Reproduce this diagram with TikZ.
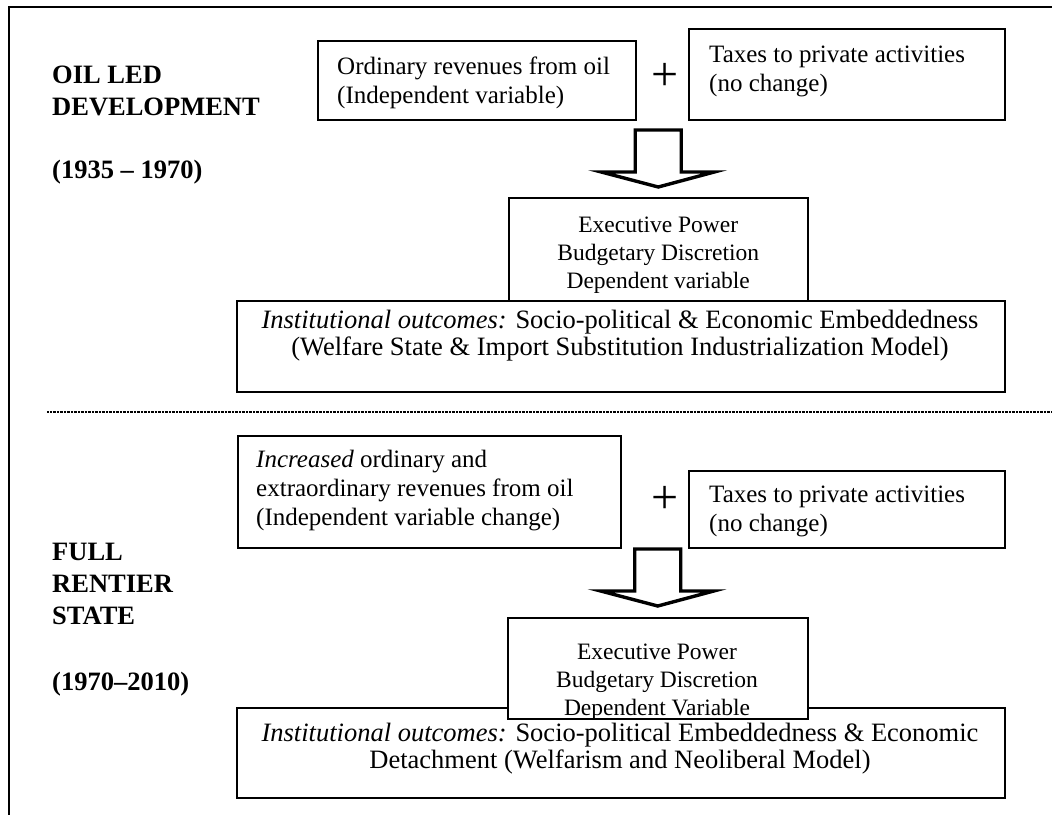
\documentclass[tikz,border=0pt]{standalone}
\usepackage{fontspec}
\setmainfont{Liberation Serif}
\begin{document}
\begin{tikzpicture}[x=1pt,y=-1pt,
  box/.style={draw, line width=1.5pt, fill=white, inner sep=0pt, anchor=north west},
  txt/.style={font=\fontsize{25}{29}\selectfont, inner sep=0pt},
  smalltxt/.style={font=\fontsize{23.5}{28.3}\selectfont, inner sep=0pt},
  bigtxt/.style={font=\fontsize{26.5}{27}\selectfont, inner sep=0pt},
  era/.style={font=\fontsize{26.5}{32}\selectfont\bfseries, inner sep=0pt, align=left},
  plussign/.style={font=\fontsize{48}{48}\selectfont, inner sep=0pt},
  blockarrow/.style={draw, line width=3.4pt, fill=white, line join=miter},
  frameline/.style={line width=1.5pt},
  divider/.style={line width=1.2pt, dash pattern=on 0.8pt off 0.6pt}
]
\useasboundingbox (0,0) rectangle (1052,815);

% outer frame (top and left edges)
\draw[frameline] (1052,7) -- (9,7) -- (9,815);

% ---------- period 1 ----------
\node[era, anchor=north west] (era1) at (52,65.5) {OIL LED\\DEVELOPMENT};
\node[era, anchor=base west] (era1-years) at (52,178) {(1935 – 1970)};

\node[box, minimum width=318pt, minimum height=79pt] (revA) at (317,40) {};
\node[txt, align=left, anchor=west] (revA-text) at (337,82.7)
  {Ordinary revenues from oil\\(Independent variable)};

\node[plussign] (plus1) at (665,77) {+};

\node[box, minimum width=316pt, minimum height=91pt] (taxA) at (688,28) {};
\node[txt, align=left, anchor=west] (taxA-text) at (709,71.2)
  {Taxes to private activities\\(no change)};

\node[box, minimum width=768pt, minimum height=91pt] (outA) at (236,300) {};
\node[bigtxt, align=center] (outA-text) at (620,336)
  {\textit{Institutional outcomes:} Socio-political \& Economic Embeddedness\\
   (Welfare State \& Import Substitution Industrialization Model)};

\node[box, minimum width=299pt, minimum height=103pt] (execA) at (508,197) {};
\node[smalltxt, align=center] (execA-text) at ([yshift=-6pt]execA.center)
  {Executive Power\\Budgetary Discretion\\Dependent variable};

\draw[blockarrow] ([yshift=10pt]execA.north) -- ++(56,-15) -- ++(-33,0) -- ++(0,-42)
  -- ++(-46,0) -- ++(0,42) -- ++(-34,0) -- cycle;

% divider between the two periods
\draw[divider] (47,412) -- (1052,412);

% ---------- period 2 ----------
\node[era, anchor=north west] (era2) at (52,543) {FULL\\RENTIER\\STATE};
\node[era, anchor=base west] (era2-years) at (52,690) {(1970–2010)};

\node[box, minimum width=383pt, minimum height=112pt] (revB) at (237,435) {};
\node[txt, align=left, anchor=west] (revB-text) at (256,491)
  {\textit{Increased} ordinary and\\extraordinary revenues from oil\\(Independent variable change)};

\node[plussign] (plus2) at (665,500) {+};

\node[box, minimum width=316pt, minimum height=77pt] (taxB) at (688,470) {};
\node[txt, align=left, anchor=west] (taxB-text) at (709,511)
  {Taxes to private activities\\(no change)};

\node[box, minimum width=768pt, minimum height=90pt] (outB) at (236,707) {};
\node[bigtxt, align=center] (outB-text) at (620,749)
  {\textit{Institutional outcomes:} Socio-political Embeddedness \& Economic\\
   Detachment (Welfarism and Neoliberal Model)};

\node[box, minimum width=300pt, minimum height=101pt] (execB) at (507,617) {};
\begin{scope}
  \clip ([shift={(0.75pt,-0.75pt)}]execB.north west) rectangle ([shift={(-0.75pt,0.75pt)}]execB.south east);
  \node[smalltxt, align=center] (execB-text) at (657,682.3)
    {Executive Power\\Budgetary Discretion\\Dependent Variable};
\end{scope}

\draw[blockarrow] ([yshift=11pt]execB.north) -- ++(56,-15) -- ++(-33,0) -- ++(0,-42)
  -- ++(-46,0) -- ++(0,42) -- ++(-34,0) -- cycle;
\end{tikzpicture}
\end{document}
